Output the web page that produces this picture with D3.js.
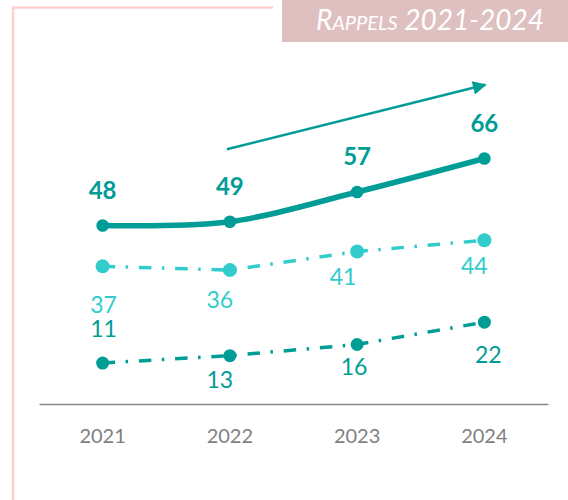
<!DOCTYPE html>
<html>
<head>
<meta charset="utf-8">
<script src="https://cdn.jsdelivr.net/npm/d3@7"></script>
<style>
  body { margin: 0; background: #fff; }
  svg { display: block; font-family: Lato, "Open Sans", sans-serif; }
</style>
</head>
<body>
<svg id="chart" width="568" height="500"></svg>
<script>
// data
const years = ["2021", "2022", "2023", "2024"];
const totalRappels = [48, 49, 57, 66];
const seriesLight = [37, 36, 41, 44];
const seriesDark = [11, 13, 16, 22];

const teal = "#009c96";
const lightTeal = "#33cccc";

class RappelsChart {
  margin = { top: 32, right: 20, bottom: 96, left: 39 };

  constructor(id, width = 568, height = 500) {
    this.id = id;
    this.width = width;
    this.height = height;
  }

  initialize() {
    this.svg = d3.select(this.id);

    // pink frame + title box
    this.frame = this.svg.append("g");
    this.container = this.svg.append("g");
    this.xAxis = this.svg.append("g");

    this.xScale = d3
      .scaleBand()
      .domain(years)
      .range([this.margin.left, this.width - this.margin.right]);
    this.yScale = d3
      .scaleLinear()
      .domain([0, 100])
      .range([this.height - this.margin.bottom, this.margin.top]);
  }

  cx(i) {
    return this.xScale(years[i]) + this.xScale.bandwidth() / 2;
  }

  drawFrame() {
    this.frame
      .append("path")
      .attr("d", "M13,500 V7.5 H273")
      .attr("fill", "none")
      .attr("stroke", "#ffcfcf")
      .attr("stroke-width", 2.5);

    this.frame
      .append("rect")
      .attr("x", 282)
      .attr("y", 0)
      .attr("width", this.width - 282)
      .attr("height", 42)
      .attr("fill", "#dfc0c1");

    const title = this.frame
      .append("text")
      .attr("x", 430)
      .attr("y", 30)
      .attr("text-anchor", "middle")
      .attr("fill", "#fff")
      .attr("font-style", "italic");
    title.append("tspan").attr("font-size", 28).text("R");
    title.append("tspan").attr("font-size", 20).text("APPELS");
    title.append("tspan").attr("font-size", 28).text(" 2021-2024");
  }

  drawSeries(values, opts) {
    const pts = values.map((v, i) => [this.cx(i), this.yScale(v)]);
    const line = d3.line().curve(opts.curve || d3.curveLinear);

    this.container
      .append("path")
      .attr("d", line(pts))
      .attr("fill", "none")
      .attr("stroke", opts.color)
      .attr("stroke-width", opts.width)
      .attr("stroke-dasharray", opts.dash || null);

    this.container
      .append("g")
      .selectAll("circle")
      .data(pts)
      .join("circle")
      .attr("cx", (d) => d[0])
      .attr("cy", (d) => d[1])
      .attr("r", opts.r)
      .attr("fill", opts.color);

    this.container
      .append("g")
      .selectAll("text")
      .data(values)
      .join("text")
      .attr("x", (d, i) => pts[i][0] + opts.nudge[i][0])
      .attr("y", (d, i) => pts[i][1] + opts.nudge[i][1])
      .attr("text-anchor", "middle")
      .attr("font-size", opts.fontSize)
      .attr("font-weight", opts.bold ? "bold" : "normal")
      .attr("fill", opts.color)
      .text((d) => d);
  }

  update() {
    this.drawFrame();

    // trend arrow
    const defs = this.svg.append("defs");
    defs
      .append("marker")
      .attr("id", "head")
      .attr("viewBox", "0 0 10 10")
      .attr("refX", 9)
      .attr("refY", 5)
      .attr("markerWidth", 6)
      .attr("markerHeight", 5.5)
      .attr("orient", "auto")
      .attr("markerUnits", "strokeWidth")
      .append("path")
      .attr("d", "M0,0 L10,5 L0,10 Z")
      .attr("fill", teal);

    this.container
      .append("line")
      .attr("x1", this.cx(1) - 3)
      .attr("y1", this.yScale(68.5))
      .attr("x2", this.cx(3) + 1)
      .attr("y2", this.yScale(85.8))
      .attr("stroke", teal)
      .attr("stroke-width", 2.5)
      .attr("marker-end", "url(#head)");

    const dashDot = "12.5 10.5 2.5 10.8";

    this.drawSeries(seriesLight, {
      color: lightTeal,
      width: 3.5,
      dash: dashDot,
      r: 7,
      fontSize: 23,
      nudge: [[1, 46.5], [-10, 37.5], [-14, 33.5], [-10, 33.5]],
    });

    this.drawSeries(seriesDark, {
      color: teal,
      width: 3.5,
      dash: dashDot,
      r: 6.5,
      fontSize: 23,
      nudge: [[1, -26.5], [-10, 32.5], [-3, 30.5], [4, 40.5]],
    });

    this.drawSeries(totalRappels, {
      color: teal,
      width: 5.5,
      curve: d3.curveCardinal.tension(0),
      r: 6.3,
      fontSize: 24,
      bold: true,
      nudge: [[0, -26.5], [0, -26.5], [0, -26.5], [0, -26.5]],
    });

    this.xAxis
      .attr("transform", `translate(0, ${this.height - this.margin.bottom})`)
      .call(d3.axisBottom(this.xScale).tickSize(0).tickPadding(25))
      .call((g) => g.select(".domain").attr("stroke", "#868686").attr("stroke-width", 1.5))
      .call((g) =>
        g
          .selectAll("text")
          .attr("font-family", "Lato, sans-serif")
          .attr("font-size", 20)
          .attr("fill", "#7f7f7f")
      );
  }
}

const chart = new RappelsChart("#chart");
chart.initialize();
chart.update();
</script>
</body>
</html>
